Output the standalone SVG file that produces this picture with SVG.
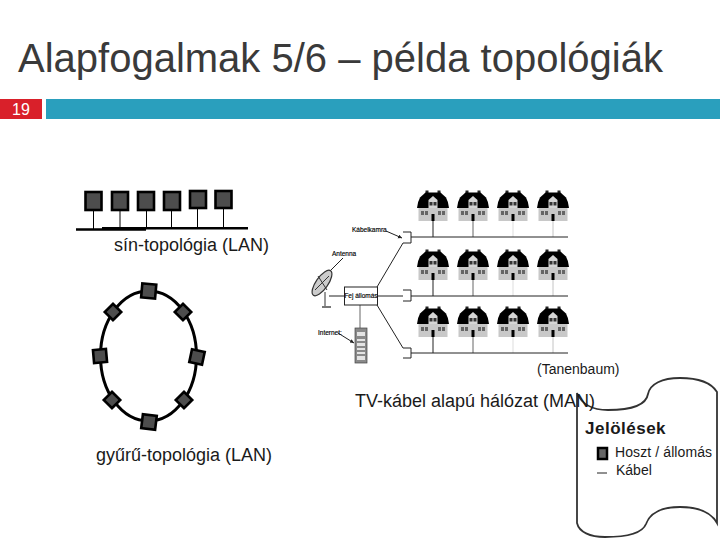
<svg xmlns="http://www.w3.org/2000/svg" xmlns:xlink="http://www.w3.org/1999/xlink" width="720" height="540" viewBox="0 0 720 540">
<style>
text{font-family:"Liberation Sans",Arial,sans-serif;fill:#1a1a1a}
.host{fill:#4d4d4d;stroke:#000;stroke-width:2.6}
.thin{stroke:#000;stroke-width:1;fill:none}
.bus{stroke:#000;stroke-width:2.6;fill:none}
.cab{stroke:#222;stroke-width:1;fill:none}
.small{font-size:6.500px;fill:#000;stroke:#000;stroke-width:.15}
.lab{font-size:18px}
</style>
<defs>
<marker id="tip" markerWidth="5" markerHeight="5" refX="4" refY="2" orient="auto"><path d="M0,0L4,2L0,4Z" fill="#222"/></marker>
<g id="house">
<rect x="-7.500" y="-0.500" width="3" height="2.500" fill="#222"/>
<rect x="4.500" y="-0.500" width="3" height="2.500" fill="#222"/>
<path d="M-7.500,1.500H7.500L13,6.500Q15.500,11 16,17H-16Q-15.500,11 -13,6.500Z" fill="#000"/>
<rect x="-14.500" y="17" width="29" height="13" fill="#c8c8c8"/>
<path d="M-4.500,17V9L0,5L4.500,9V17Z" fill="#d4d4d4"/>
<path d="M-3.500,11h3v3.500h-3zM0.500,11h3v3.500h-3z" fill="#333"/>
<path d="M-12,20h3v4h-3zM-8,20h3v4h-3zM5,20h3v4h-3zM9,20h3v4h-3z" fill="#666"/>
<rect x="-1.500" y="23" width="3" height="7" fill="#000"/>
</g>
<g id="row">
<use xlink:href="#house" href="#house" x="433" y="0"/>
<use xlink:href="#house" href="#house" x="473" y="0"/>
<use xlink:href="#house" href="#house" x="513" y="0"/>
<use xlink:href="#house" href="#house" x="553" y="0"/>
</g>
</defs>
<rect width="720" height="540" fill="#fff"/>
<text x="18" y="72" font-size="40" style="fill:#3a3a3a">Alapfogalmak 5/6 – példa topológiák</text>
<rect x="0" y="99" width="42" height="20" fill="#d9202a"/>
<rect x="46" y="99" width="674" height="20" fill="#2a9fbd"/>
<text x="21" y="115" font-size="16" text-anchor="middle" style="fill:#fff">19</text>

<g id="connectors">
<path class="thin" d="M93.500,210V229M120,210V229M146.500,210V229M171.500,210V228M197.500,208V228M223.500,208V228"/>
<path class="bus" d="M76,229.500H146M102,228.300H248"/>
<ellipse cx="148.500" cy="356" rx="48" ry="65" fill="none" stroke="#000" stroke-width="3"/>
<path class="cab" d="M433,221V237M433,280V296M433,337V353" stroke-width="1"/>
<path d="M473,221V237M473,280V296M473,337V353" stroke="#666" stroke-width="1" fill="none"/>
<path d="M513,221V237M513,280V296M513,337V353" stroke="#ddd" stroke-width="1" fill="none"/>
<path d="M553,221V237M553,280V296M553,337V353" stroke="#c4c4c4" stroke-width="1" fill="none"/>
<path class="cab" d="M411,237H568M411,296H568M411,353H568"/>
<path class="cab" d="M403,232H411V243H403M403,290H411V301H403M403,348H411V358H403"/>
<path class="cab" d="M377,287L403,243M378,296H403M377,305L403,348M329,296H344"/>
<path d="M360,305V329" stroke="#666" stroke-width="1" fill="none"/>
<path class="cab" d="M386,231L402,238" marker-end="url(#tip)"/>
<path class="cab" d="M328,273L343,258"/>
<path class="cab" d="M338,333L354,343" marker-end="url(#tip)"/>
</g>

<g id="bus-hosts">
<rect id="bus-host-1" class="host" x="85.500" y="192" width="16" height="18"/>
<rect id="bus-host-2" class="host" x="112" y="192" width="16" height="18"/>
<rect id="bus-host-3" class="host" x="138" y="192" width="16" height="18"/>
<rect id="bus-host-4" class="host" x="164" y="192" width="16" height="18"/>
<rect id="bus-host-5" class="host" x="190" y="191" width="16" height="17"/>
<rect id="bus-host-6" class="host" x="215.500" y="191" width="16" height="17"/>
</g>
<g id="ring-hosts">
<rect id="ring-host-1" class="host" x="-7" y="-7" width="14" height="14" transform="translate(148.700 291) rotate(5)"/>
<rect id="ring-host-2" class="host" x="-5.800" y="-5.800" width="11.600" height="11.600" transform="translate(113 312) rotate(45)"/>
<rect id="ring-host-3" class="host" x="-5.800" y="-5.800" width="11.600" height="11.600" transform="translate(183 312) rotate(45)"/>
<rect id="ring-host-4" class="host" x="-6.500" y="-6.500" width="13" height="13" transform="translate(100 356) rotate(-5)"/>
<rect id="ring-host-5" class="host" x="-6.500" y="-6.500" width="13" height="13" transform="translate(197 357) rotate(12)"/>
<rect id="ring-host-6" class="host" x="-5.800" y="-5.800" width="11.600" height="11.600" transform="translate(112 400) rotate(45)"/>
<rect id="ring-host-7" class="host" x="-5.800" y="-5.800" width="11.600" height="11.600" transform="translate(184 400) rotate(45)"/>
<rect id="ring-host-8" class="host" x="-7" y="-7" width="14" height="14" transform="translate(149 422) rotate(7)"/>
</g>

<g id="houses">
<use xlink:href="#row" href="#row" y="191"/>
<use xlink:href="#row" href="#row" y="250"/>
<use xlink:href="#row" href="#row" y="307"/>
</g>
<g id="head-end">
<rect x="344.500" y="287" width="33" height="18" fill="#fff" stroke="#222" stroke-width="1"/>
<text class="small" x="361" y="298" text-anchor="middle">Fej állomás</text>
</g>
<g id="antenna">
<ellipse cx="322" cy="283" rx="6" ry="15" transform="rotate(35 322 283)" fill="#ccc" stroke="#333" stroke-width="1.200"/>
<path d="M315,290L329,276M318,276L327,290" stroke="#333" stroke-width="1"/>
<path d="M325,292V306" stroke="#333" stroke-width="1"/>
<path d="M322,307H331" stroke="#777" stroke-width="2"/>
<text class="small" x="332" y="256">Antenna</text>
</g>
<g id="internet">
<rect x="355" y="328" width="12" height="35" fill="#8a8a8a" stroke="#444" stroke-width=".7"/>
<path d="M357,332h8v4h-8zM357,339h8v2h-8zM357,343h8v3h-8zM357,348h8v2h-8zM357,352h8v2h-8zM357,356h8v4h-8z" fill="#e4e4e4"/>
<text class="small" x="318" y="335">Internet:</text>
</g>
<text class="small" x="352" y="232">Kábelkamra</text>

<text class="lab" x="114" y="251">sín-topológia (LAN)</text>
<text class="lab" x="96" y="461">gyűrű-topológia (LAN)</text>
<text x="537" y="374" font-size="14">(Tanenbaum)</text>

<g id="legend">
<path d="M577,393V523C579,532 590,537 605,537C625,537 642,534 646,524C650,513 662,507 680,507C700,507 712,514 717,523V392C712,384 700,378 680,378C662,378 650,384 648,394C646,406 630,410 608,410C592,410 582,405 577,393Z" fill="#fff" stroke="#333" stroke-width="1.800"/>
<text x="585" y="434" font-size="17" font-weight="bold" style="letter-spacing:.5px">Jelölések</text>
<rect x="598" y="448" width="9" height="11" fill="#666" stroke="#000" stroke-width="2.500"/>
<path d="M597,473H607" stroke="#222" stroke-width="1"/>
<text x="615" y="457" font-size="14" style="letter-spacing:.1px">Hoszt / állomás</text>
<text x="616" y="475" font-size="14">Kábel</text>
</g>
<text class="lab" x="355" y="407">TV-kábel alapú hálózat (MAN)</text>
</svg>
